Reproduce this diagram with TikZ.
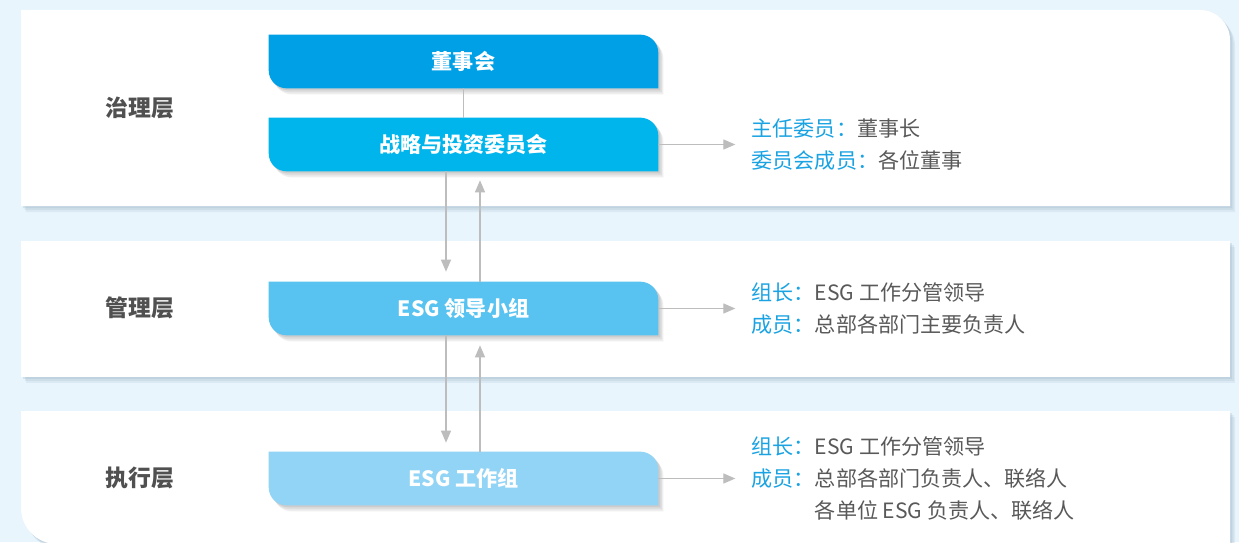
\documentclass[tikz,border=0pt]{standalone}
\usepackage{fontspec}
\setmainfont{Noto Sans CJK SC}
\usetikzlibrary{arrows.meta, backgrounds}

\definecolor{bgblue}{HTML}{E8F5FD}
\definecolor{boardblue}{HTML}{00A0E6}
\definecolor{stratblue}{HTML}{00B4EC}
\definecolor{leadblue}{HTML}{58C3F0}
\definecolor{workblue}{HTML}{92D4F5}
\definecolor{labelblue}{HTML}{1AA3E3}
\definecolor{textgray}{HTML}{595959}
\definecolor{layergray}{HTML}{505050}
\definecolor{linegray}{HTML}{BDBDBD}
\definecolor{shadowblue}{HTML}{9FB8C8}

\pgfdeclarelayer{back}
\pgfsetlayers{back,background,main}

\begin{document}
\begin{tikzpicture}[x=0.02cm, y=0.02cm, >={Triangle[length=0.24cm, width=0.2cm]},
  layer/.style={font=\fontsize{13}{16}\selectfont\bfseries, text=layergray},
  unit/.style={minimum width=7.78cm, minimum height=1.06cm, inner sep=0pt, font=\fontsize{12}{14}\selectfont\bfseries, text=white},
  link/.style={draw=linegray, fill=linegray, line width=0.7pt},
  info/.style={anchor=west, align=left, inner sep=0pt, font=\fontsize{12}{18.2}\selectfont, text=textgray},
  softshadow/.style={
    preaction={fill=#1, fill opacity=0.18, transform canvas={xshift=0.1cm, yshift=-0.12cm}},
    preaction={fill=#1, fill opacity=0.22, transform canvas={xshift=0.07cm, yshift=-0.08cm}},
    preaction={fill=#1, fill opacity=0.3, transform canvas={xshift=0.04cm, yshift=-0.04cm}}},
  panelshadow/.style={softshadow=shadowblue},
  unitshadow/.style={softshadow=black!35}
]

  \useasboundingbox (0,0) rectangle (1239,542);

  % Background and bands
  \begin{pgfonlayer}{back}
    \fill[bgblue] (0,0) rectangle (1239,542);
    \fill[white, panelshadow] (21,336) -- (21,532) -- (1200,532) arc[start angle=90, end angle=0, radius=30] -- (1230,336) -- cycle;
    \fill[white, panelshadow] (21,165) rectangle (1230,301);
    \fill[white, panelshadow] (21,131) -- (1230,131) -- (1230,-2) -- (57,-2) arc[start angle=270, end angle=180, radius=36] -- cycle;
  \end{pgfonlayer}

  % Layer names
  \node[layer] (gov) at (140,434) {治理层};
  \node[layer] (mgmt) at (140,234) {管理层};
  \node[layer] (exec) at (140,64) {执行层};

  % Units
  \node[unit] (board) at (463.5,480.5) {董事会};
  \node[unit] (strat) at (463.5,397.5) {战略与投资委员会};
  \node[unit] (lead) at (463.5,233.5) {ESG 领导小组};
  \node[unit] (work) at (463.5,63.5) {ESG 工作组};

  \begin{scope}[on background layer]
    \foreach \n/\c in {board/boardblue, strat/stratblue, lead/leadblue, work/workblue}
      \fill[\c, unitshadow] (\n.north west) -- ([xshift=-0.36cm]\n.north east) arc[start angle=90, end angle=0, radius=18] -- (\n.south east) -- ([xshift=0.36cm]\n.south west) arc[start angle=270, end angle=180, radius=18] -- cycle;
  \end{scope}

  % Arrows between units
  \draw[link] (board) -- (strat);
  \draw[link, ->] ([xshift=-0.35cm]strat.south) -- ([xshift=-0.35cm, yshift=0.2cm]lead.north);
  \draw[link, ->] ([xshift=0.33cm]lead.north) -- ([xshift=0.33cm, yshift=-0.18cm]strat.south);
  \draw[link, ->] ([xshift=-0.35cm]lead.south) -- ([xshift=-0.35cm, yshift=0.18cm]work.north);
  \draw[link, ->] ([xshift=0.33cm]work.north) -- ([xshift=0.33cm, yshift=-0.2cm]lead.south);

  % Members
  \draw[link, ->] (strat.east) -- ++(77,0) coordinate (stratend);
  \draw[link, ->] (lead.east) -- ++(77,0) coordinate (leadend);
  \draw[link, ->] (work.east) -- ++(77,0) coordinate (workend);

  \node[info] (stratinfo) at ([xshift=0.32cm]stratend) {{\color{labelblue}主任委员：}董事长\\{\color{labelblue}委员会成员：}各位董事};
  \node[info] (leadinfo) at ([xshift=0.32cm]leadend) {{\color{labelblue}组长：}ESG 工作分管领导\\{\color{labelblue}成员：}总部各部门主要负责人};
  \node[info] (workinfo) at ([xshift=0.32cm]workend) {{\color{labelblue}组长：}ESG 工作分管领导\\{\color{labelblue}成员：}总部各部门负责人、联络人\\\phantom{成员：}各单位 ESG 负责人、联络人};

\end{tikzpicture}
\end{document}
